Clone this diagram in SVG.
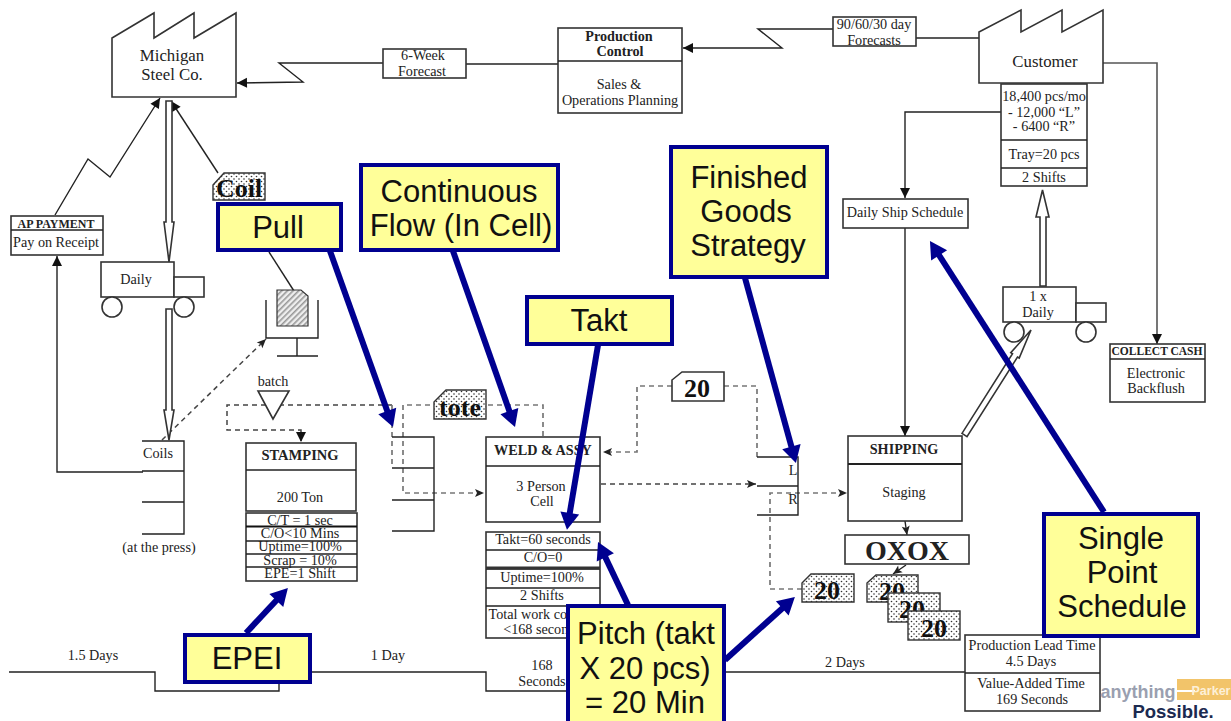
<svg xmlns="http://www.w3.org/2000/svg" width="1231" height="721" viewBox="0 0 1231 721">
<style>
.s{fill:none;stroke:#222;stroke-width:1.4}
.b{fill:#fff;stroke:#333;stroke-width:1.6}
.d{fill:none;stroke:#444;stroke-width:1.5;stroke-dasharray:5 4}
.g{fill:none;stroke:#777;stroke-width:1.7;stroke-dasharray:5 4}
.dot{fill:url(#dots);stroke:#333;stroke-width:1.4}
.cal{fill:#ffff99;stroke:#000090;stroke-width:4}
.ba{fill:none;stroke:#000090;stroke-width:6;marker-end:url(#blue)}
text{font-family:"Liberation Serif","Times New Roman",serif;font-size:14.2px;fill:#222;text-anchor:middle}
.bold{font-weight:bold}
.big{font-size:16.800px}
.k{font-weight:bold;font-size:26px;fill:#111}
.c{font-family:"Liberation Sans",Arial,sans-serif;font-size:31px;fill:#111}
.logo{font-family:"Liberation Sans",sans-serif;font-weight:bold}
</style>
<defs>
<pattern id="dots" width="5" height="5" patternUnits="userSpaceOnUse"><rect width="5" height="5" fill="#fff"/><circle cx="1.5" cy="1.5" r="0.8" fill="#333"/><circle cx="4" cy="4" r="0.8" fill="#333"/></pattern>
<pattern id="hatch" width="4" height="4" patternUnits="userSpaceOnUse" patternTransform="rotate(-45)"><rect width="4" height="4" fill="#eee"/><rect width="4" height="1.6" fill="#999"/></pattern>
<marker id="ah" markerUnits="userSpaceOnUse" markerWidth="12" markerHeight="12" refX="10" refY="5" orient="auto" overflow="visible"><path d="M0,0 L10,5 L0,10 Z" fill="#111"/></marker>
<marker id="op" markerUnits="userSpaceOnUse" markerWidth="12" markerHeight="12" refX="9" refY="4" orient="auto" overflow="visible"><path d="M0,0 L9,4 L0,8 L2,4 Z" fill="#222"/></marker>
<marker id="blue" markerUnits="userSpaceOnUse" markerWidth="20" markerHeight="24" refX="0" refY="0" viewBox="-2 -11 20 22" orient="auto" overflow="visible"><path d="M-1,-9.5 L16,0 L-1,9.5 Z" fill="#000090"/></marker>
</defs>

<g id="connectors">
<path class="s" d="M383,63 H279 L303,82 L237,83" marker-end="url(#ah)"/>
<path class="s" d="M466,64 H558"/>
<path class="s" d="M833,29 H758 L782,48 H683" marker-end="url(#ah)"/>
<path class="s" d="M916,38 H981"/>
<path class="s" d="M1001,112 H905 V198" marker-end="url(#ah)"/>
<path class="s" d="M905,228 V436" marker-end="url(#ah)"/>
<path d="M1092,63 H1157 V344" fill="none" stroke="#555" stroke-width="1.6" marker-end="url(#ah)"/>
<path class="s" d="M55,215 L88,159 L110,177 L160,98" marker-end="url(#ah)"/>
<path class="s" d="M218,173 L171,101" marker-end="url(#ah)"/>
<path class="s" d="M143,472 H57 V256" marker-end="url(#ah)"/>
<path class="d" d="M162,440 L266,339" marker-end="url(#op)"/>
<path class="d" d="M392,405 H227 V430 H301 V442" marker-end="url(#ah)"/>
<path class="g" d="M392,405 V468"/>
<path class="g" d="M543,436 V405 H403 V493 H484" marker-end="url(#op)"/>
<path class="g" d="M672,386 H637 V452 H603" marker-end="url(#op)"/>
<path class="g" d="M724,386 H757 V457"/>
<path class="d" d="M601,484 H756" marker-end="url(#op)"/>
<path class="g" d="M802,589 H770 V493 H847" marker-end="url(#op)"/>
<path class="s" d="M905,521 L907,535" marker-end="url(#op)"/>
<path class="s" d="M906,565 L893,574" marker-end="url(#op)"/>
<path class="s" d="M269,252 L294,291"/>
<path class="s" d="M9,672 H155 V691 H279 V672 H486 V691 H566"/>
<path class="s" d="M725,672 H965"/>
<path class="b" d="M166,101 H172 V222 L174,222 L169,262 L164,222 L166,222 Z" stroke-width="1.3"/>
<path class="b" d="M166,309 H172 V410 L174,410 L169,440 L164,410 L166,410 Z" stroke-width="1.3"/>
<path class="b" d="M1040,286 H1046 V217 L1049,217 L1042.500,190 L1036,217 L1040,217 Z" stroke-width="1.3"/>
<path class="b" d="M962,433.400 L967,436.600 L1017.500,357 L1019.200,358 L1031,330 L1010.800,352.700 L1012.500,353.800 Z" stroke-width="1.3"/>
</g>

<g id="michigan"><path class="b" d="M112,97 V38 L154,13 V38 L194,13 V38 L236,13 V97 Z"/><text class="big" x="172" y="61">Michigan</text><text class="big" x="172" y="80">Steel Co.</text></g>
<g id="forecast6"><rect class="b" x="383" y="49" width="83" height="29"/><text x="423" y="60">6-Week</text><text x="422" y="76">Forecast</text></g>
<g id="production-control"><rect class="b" x="558" y="28" width="124" height="85"/><path class="s" d="M558,61 H682"/><text class="bold" x="619" y="41">Production</text><text class="bold" x="620" y="56">Control</text><text x="619" y="89">Sales &amp;</text><text x="620" y="105">Operations Planning</text></g>
<g id="forecast90"><rect class="b" x="833" y="17" width="83" height="29"/><text x="874" y="29">90/60/30 day</text><text x="874" y="45">Forecasts</text></g>
<g id="customer"><path class="b" d="M979,32 L1021,10 V32 L1062,10 V32 L1103,10 V83 H979 Z"/><text class="big" x="1045" y="67">Customer</text></g>
<g id="customer-data"><rect class="b" x="1001" y="84" width="86" height="102"/><path class="s" d="M1001,140 H1087 M1001,168 H1087"/><text x="1044" y="101">18,400 pcs/mo</text><text x="1044" y="117">- 12,000 “L”</text><text x="1044" y="131">- 6400 “R”</text><text x="1044" y="159">Tray=20 pcs</text><text x="1044" y="182">2 Shifts</text></g>
<g id="daily-ship"><rect class="b" x="843" y="199" width="125" height="29"/><text x="905" y="217">Daily Ship Schedule</text></g>
<g id="collect-cash"><rect class="b" x="1110" y="344" width="95" height="58"/><path class="s" d="M1110,359 H1205"/><text class="bold" x="1157" y="355" style="font-size:11.500px">COLLECT  CASH</text><text x="1156" y="378">Electronic</text><text x="1156" y="393">Backflush</text></g>
<g id="truck-right"><rect class="b" x="1003" y="287" width="73" height="35"/><rect class="b" x="1076" y="303" width="30" height="19"/><circle class="b" cx="1014" cy="332" r="10"/><circle class="b" cx="1086" cy="332" r="10"/><text x="1038" y="301">1 x</text><text x="1038" y="317">Daily</text></g>
<g id="truck-left"><rect class="b" x="101" y="262" width="73" height="35"/><rect class="b" x="174" y="277" width="30" height="20"/><circle class="b" cx="112" cy="307" r="10"/><circle class="b" cx="184" cy="307" r="10"/><text x="136" y="284">Daily</text></g>
<g id="ap-payment"><rect class="b" x="11" y="216" width="92" height="39"/><path class="s" d="M11,230 H103"/><text class="bold" x="56" y="228" style="font-size:12px">AP PAYMENT</text><text x="56" y="247">Pay on Receipt</text></g>
<g id="coil-kanban"><path class="dot" d="M213,185 L224,173 H265 V200 H213 Z"/><text class="k" x="239" y="197">Coil</text></g>
<g id="kanban-post"><path d="M277,290 H301 L308,296 V326 H277 Z" fill="url(#hatch)" stroke="#333" stroke-width="1.2"/><path class="s" d="M266,300 V338 H318 V300 M297,338 V356 M277,356 H318"/></g>
<g id="coils"><path class="s" d="M142,441 H184 V534 H142 M142,471 H184 M142,502 H184"/><text x="158" y="458">Coils</text><text x="159" y="552">(at the press)</text></g>
<g id="batch"><text x="273" y="386">batch</text><path class="b" d="M258,391 H289 L273,419 Z"/></g>
<g id="stamping"><rect class="b" x="246" y="443" width="110" height="68"/><path class="s" d="M246,470 H356"/><text class="bold" x="300" y="460" style="font-size:14.500px">STAMPING</text><text x="300" y="502">200 Ton</text></g>
<g id="stamping-data"><rect class="b" x="246" y="513" width="111" height="68"/><path d="M246,526.500 H357" stroke="#111" stroke-width="2.200"/><path class="s" d="M246,541 H357 M246,554 H357 M246,567 H357"/><text x="300" y="525">C/T = 1 sec</text><text x="300" y="538">C/O&lt;10 Mins</text><text x="300" y="551">Uptime=100%</text><text x="300" y="565">Scrap = 10%</text><text x="300" y="578">EPE=1 Shift</text></g>
<g id="supermarket-mid"><path class="s" d="M392,437 H434 V531 H392 M392,468 H434 M392,500 H434"/></g>
<g id="tote-kanban"><path class="dot" d="M434,402 L446,390 H486 V419 H434 Z"/><text class="k" x="460" y="416">tote</text></g>
<g id="weld"><rect class="b" x="486" y="437" width="114" height="85"/><path class="s" d="M486,466 H600"/><text class="bold" x="543" y="455">WELD &amp; ASSY</text><text x="541" y="491">3 Person</text><text x="542" y="506">Cell</text></g>
<g id="weld-data"><rect class="b" x="486" y="532" width="114" height="106"/><path class="s" d="M486,550 H600 M486,569 H600 M486,588 H600 M486,606 H600"/><path d="M486,568 H600" stroke="#333" stroke-width="3"/><text x="543" y="544">Takt=60 seconds</text><text x="543" y="562">C/O=0</text><text x="542" y="582">Uptime=100%</text><text x="542" y="600">2 Shifts</text><text x="542" y="619">Total work content</text><text x="542" y="634">&lt;168 seconds</text></g>
<g id="kanban-20-top"><path class="b" d="M672,380 L682,372 H724 V401 H672 Z"/><text class="k" x="697" y="397">20</text></g>
<g id="supermarket-lr"><path class="s" d="M757,457 H798 V515 H757 M757,486 H798"/><text x="793" y="475">L</text><text x="793" y="504">R</text></g>
<g id="shipping"><rect class="b" x="848" y="436" width="114" height="85"/><path d="M848,464 H962" stroke="#222" stroke-width="2"/><text class="bold" x="904" y="454">SHIPPING</text><text x="904" y="497">Staging</text></g>
<g id="oxox"><rect class="b" x="845" y="535" width="124" height="29"/><text class="bold" x="907" y="560" style="font-size:28px">OXOX</text></g>
<g id="kanban-20-a"><path class="dot" d="M802,583 L811,574 H854 V602 H802 Z"/><text class="k" x="827" y="599">20</text></g>
<g id="kanban-20-b"><path class="dot" d="M867,583 L876,575 H918 V602 H867 Z"/><text class="k" x="892" y="600">20</text></g>
<g id="kanban-20-c"><rect class="dot" x="888" y="593" width="52" height="29"/><text class="k" x="912" y="618">20</text></g>
<g id="kanban-20-d"><rect class="dot" x="908" y="611" width="52" height="29"/><text class="k" x="934" y="637">20</text></g>
<g id="lead-time"><rect class="b" x="965" y="635" width="135" height="76"/><path class="s" d="M965,673 H1100"/><text x="1032" y="650">Production Lead Time</text><text x="1031" y="666">4.5 Days</text><text x="1031" y="688">Value-Added Time</text><text x="1032" y="704">169 Seconds</text></g>
<g id="timeline-labels"><text x="93" y="660">1.5 Days</text><text x="388" y="660">1 Day</text><text x="542" y="670">168</text><text x="542" y="686">Seconds</text><text x="845" y="667">2 Days</text></g>

<g id="callout-arrows">
<path class="ba" d="M330,251 L387.600,412"/>
<path class="ba" d="M453,251 L509.700,412"/>
<path class="ba" d="M598,345 L569.600,514"/>
<path class="ba" d="M745,278 L791.700,447.600"/>
<path class="ba" d="M1104,512 L938.600,254.500"/>
<path class="ba" d="M246,633 L277,599.700"/>
<path class="ba" d="M628,605 L604.900,556.400"/>
<path class="ba" d="M725,660 L783,607.700"/>
</g>
<g id="callout-pull"><rect class="cal" x="218" y="204" width="123" height="46"/><text class="c" x="278" y="238">Pull</text></g>
<g id="callout-continuous"><rect class="cal" x="361" y="165" width="197" height="85"/><text class="c" x="459" y="202">Continuous</text><text class="c" x="461" y="236">Flow (In Cell)</text></g>
<g id="callout-takt"><rect class="cal" x="527" y="297" width="145" height="47"/><text class="c" x="599" y="331">Takt</text></g>
<g id="callout-finished"><rect class="cal" x="671" y="147" width="156" height="130"/><text class="c" x="749" y="188">Finished</text><text class="c" x="746" y="222">Goods</text><text class="c" x="748" y="256">Strategy</text></g>
<g id="callout-single"><rect class="cal" x="1044" y="514" width="154" height="122"/><text class="c" x="1121" y="549">Single</text><text class="c" x="1122" y="583">Point</text><text class="c" x="1122" y="617">Schedule</text></g>
<g id="callout-epei"><rect class="cal" x="185" y="635" width="125" height="47"/><text class="c" x="247" y="669">EPEI</text></g>
<g id="callout-pitch"><rect class="cal" x="568" y="606" width="156" height="120"/><text class="c" x="646" y="644">Pitch (takt</text><text class="c" x="645" y="679">X 20 pcs)</text><text class="c" x="645" y="713">= 20 Min</text></g>

<g id="logo">
<rect x="1177" y="679" width="54" height="21" fill="#f2c46a"/>
<path d="M1177,691 H1195" stroke="#fff" stroke-width="2"/>
<text class="logo" x="1211" y="695" style="font-size:12.500px;fill:#fdf0d8">Parker</text>
<text class="logo" x="1138" y="698" style="font-size:18px;fill:#9a9fb0">anything</text>
<text class="logo" x="1173" y="717.500" style="font-size:18.500px;fill:#1c2a50">Possible.</text>
</g>
</svg>
